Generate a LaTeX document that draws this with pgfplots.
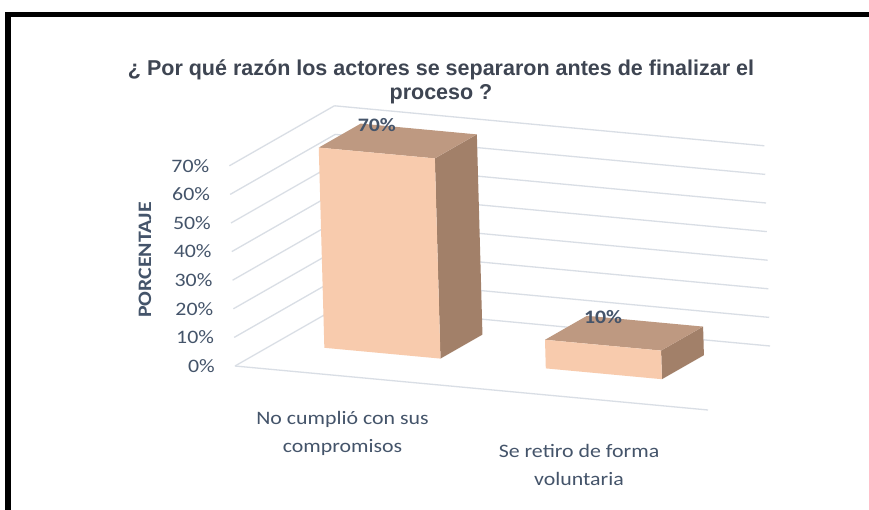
\documentclass[border=0pt]{standalone}
\usepackage{pgfplots}
\pgfplotsset{compat=1.18}
\usepackage{fontspec}
\setmainfont{Carlito}[FakeStretch=1.15]
\newfontfamily\titlefont{Liberation Sans}
\definecolor{txt}{HTML}{44546A}
\definecolor{titlec}{HTML}{3E4552}
\definecolor{gridc}{HTML}{D9DEE5}
\definecolor{frontc}{HTML}{F8CBAD}
\definecolor{topc}{HTML}{BE9981}
\definecolor{sidec}{HTML}{A28069}
% #1 = left x, #2 = right x, #3 = value (percent)
\newcommand\drawbar[3]{%
  \addplot3[fill=sidec, draw=none] coordinates {(#2,0.38,0) (#2,0.78,0) (#2,0.78,#3) (#2,0.38,#3)};
  \addplot3[fill=topc, draw=none] coordinates {(#1,0.38,#3) (#2,0.38,#3) (#2,0.78,#3) (#1,0.78,#3)};
  \addplot3[fill=frontc, draw=none] coordinates {(#1,0.38,0) (#2,0.38,0) (#2,0.38,#3) (#1,0.38,#3)};
}
\begin{document}
\begin{tikzpicture}
\path[use as bounding box] (0,0) rectangle (869pt,510pt);
\fill[white] (0,0) rectangle (869pt,510pt);
\fill[black] (5pt,0pt) rectangle (11pt,498pt);
\fill[black] (5pt,493pt) rectangle (869pt,498pt);
\node[align=center, text=titlec, font=\titlefont\bfseries\fontsize{21.5}{23.5}\selectfont] at (441pt,428pt)
  {¿ Por qué razón los actores se separaron antes de finalizar el\\proceso ?};
\node[rotate=90, text=txt, font=\bfseries\fontsize{19}{22}\selectfont] at (145pt,250pt) {PORCENTAJE};
\begin{axis}[
  at={(235pt,144pt)}, anchor=origin,
  x={(215pt,-20pt)}, y={(105pt,60pt)}, z={(-0.08pt,2.86pt)},
  xmin=0, xmax=2, ymin=0, ymax=1, zmin=0, zmax=70,
  clip=false,
  axis line style={draw=none},
  major tick length=0pt,
  xtick={0.5,1.6},
  xticklabels={{No cumplió con sus\\compromisos},{\rule{0pt}{24pt}Se retiro de forma\\voluntaria}},
  ytick=\empty,
  ztick={0,10,20,30,40,50,60,70},
  zticklabels={0\%,10\%,20\%,30\%,40\%,50\%,60\%,70\%},
  zmajorgrids,
  major grid style={gridc, line width=1.3pt},
  ticklabel style={font=\fontsize{19}{27.5}\selectfont, text=txt},
  xticklabel style={align=center, anchor=north, yshift=-32pt},
  zticklabel style={anchor=east, inner sep=0pt, xshift=-20pt},
]
\addplot3[gridc, line width=1.3pt] coordinates {(0,0,0) (2.2,0,0)};
\drawbar{0.23}{0.77}{70}
\drawbar{1.26}{1.80}{10}
\addplot3[draw=none, mark=none, nodes near coords, point meta=explicit symbolic,
  nodes near coords style={font=\bfseries\fontsize{19}{22}\selectfont, text=txt, anchor=center, yshift=28pt}]
  coordinates {(0.5,0.38,70) [70\%] (1.53,0.38,10) [10\%]};
\end{axis}
\end{tikzpicture}
\end{document}
